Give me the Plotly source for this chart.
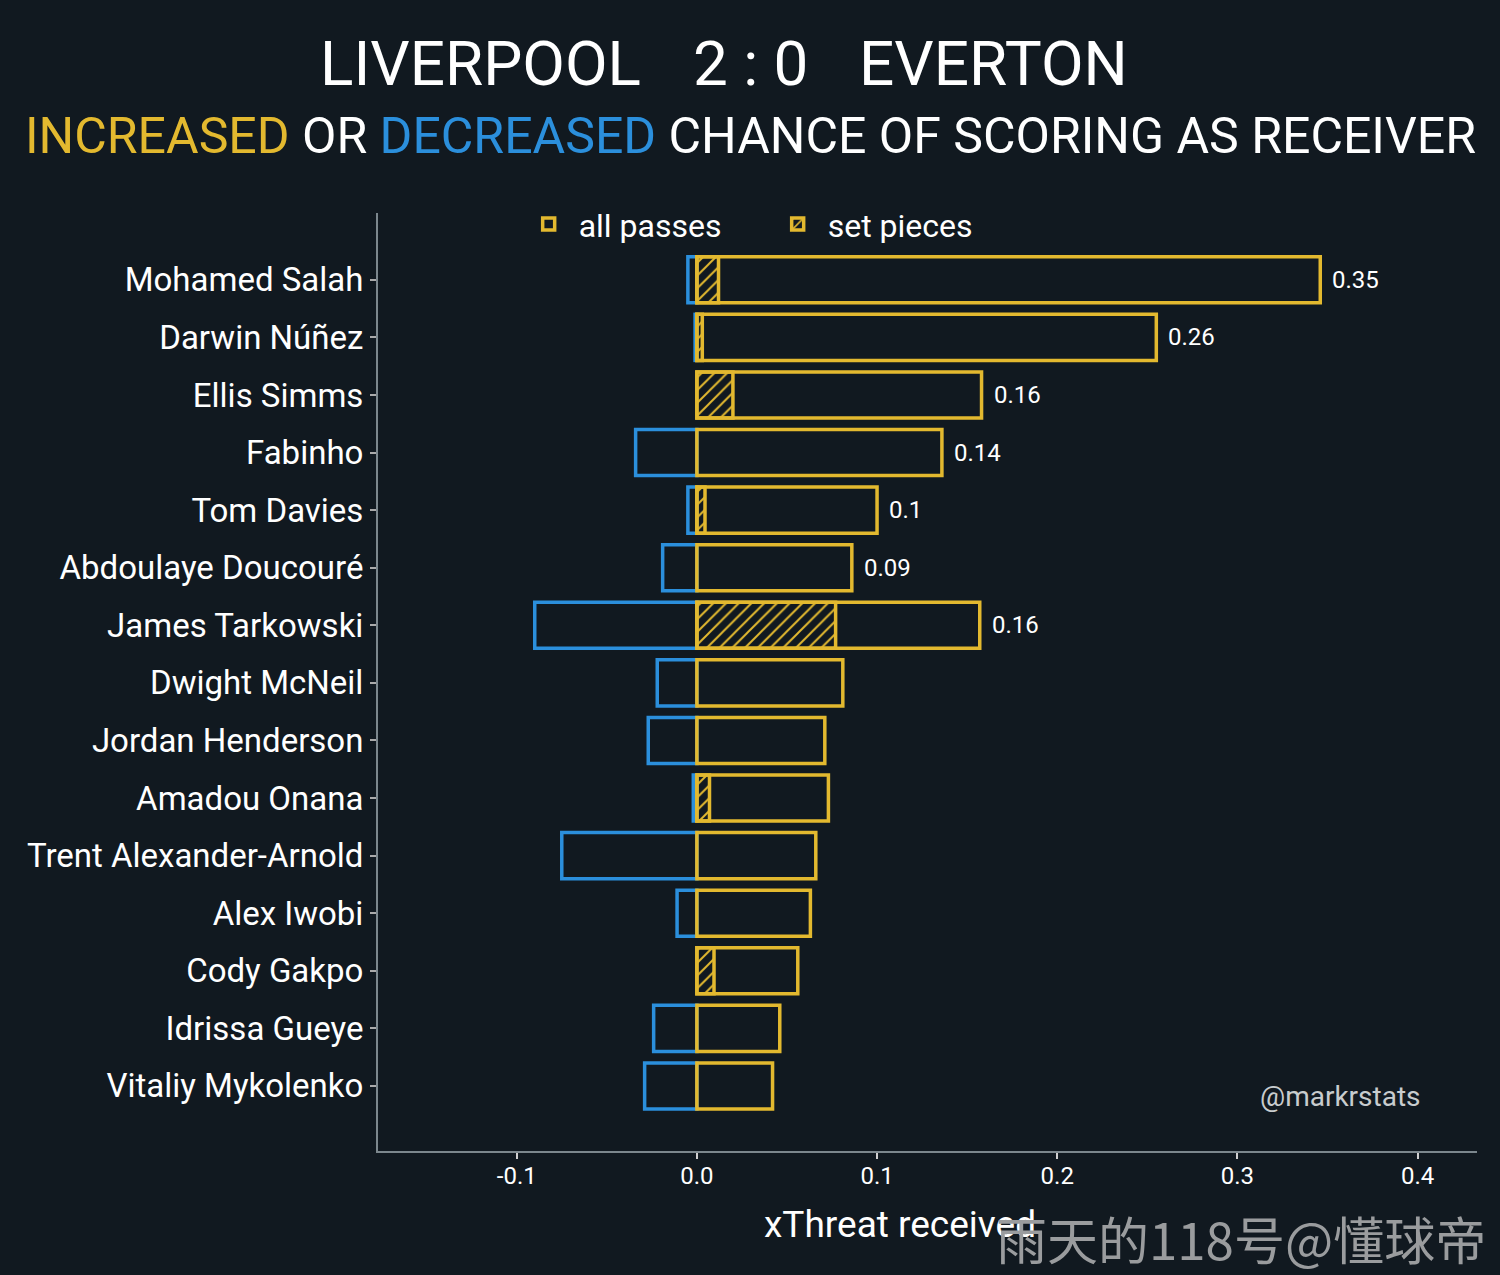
import plotly.graph_objects as go

# data
players = [
    "Mohamed Salah", "Darwin Núñez", "Ellis Simms", "Fabinho", "Tom Davies",
    "Abdoulaye Doucouré", "James Tarkowski", "Dwight McNeil", "Jordan Henderson",
    "Amadou Onana", "Trent Alexander-Arnold", "Alex Iwobi", "Cody Gakpo",
    "Idrissa Gueye", "Vitaliy Mykolenko",
]
increased = [0.346, 0.255, 0.158, 0.136, 0.100, 0.086, 0.157, 0.081, 0.071,
             0.073, 0.066, 0.063, 0.056, 0.046, 0.042]
decreased = [-0.005, -0.001, None, -0.034, -0.005, -0.019, -0.090, -0.022, -0.027,
             -0.002, -0.075, -0.011, None, -0.024, -0.029]
set_pieces = [0.012, 0.003, 0.020, None, 0.0045, None, 0.077, None, None,
              0.007, None, None, 0.0095, None, None]
value_labels = ["0.35", "0.26", "0.16", "0.14", "0.1", "0.09", "0.16",
                "", "", "", "", "", "", "", ""]

BG = "#111920"
YELLOW = "#e3b92f"
BLUE = "#2b8fdc"
AXIS = "#7c878d"
FONT = "Roboto"

W, H = 1500, 1275
L, R, T, B = 378, 23, 213, 124
pw, ph = W - L - R, H - T - B


def px(x, y):
    # pixel position on the page -> paper coordinates
    return (x - L) / pw, 1 - (y - T) / ph


fig = go.Figure()

fig.add_trace(go.Bar(
    y=players, x=decreased, orientation="h", width=0.8,
    marker=dict(color="rgba(0,0,0,0)", line=dict(color=BLUE, width=3.5)),
    showlegend=False, name="decreased",
))
fig.add_trace(go.Bar(
    y=players, x=increased, orientation="h", width=0.8,
    marker=dict(color="rgba(0,0,0,0)", line=dict(color=YELLOW, width=3.5)),
    name="all passes",
))
fig.add_trace(go.Bar(
    y=players, x=set_pieces, orientation="h", width=0.8,
    marker=dict(
        color="rgba(0,0,0,0)", line=dict(color=YELLOW, width=3.5),
        pattern=dict(shape="/", fgcolor=YELLOW, bgcolor="rgba(0,0,0,0)",
                     size=9, solidity=0.22, fillmode="replace"),
    ),
    name="set pieces",
))

# value labels at the end of the bars
for p, v, t in zip(players, increased, value_labels):
    if t:
        fig.add_annotation(x=v, y=p, text=t, showarrow=False, xanchor="left",
                           xshift=10, font=dict(family=FONT, size=24, color="white"))


def text_at(x, y, text, anchor, size, color="white", family=FONT):
    xp, yp = px(x, y)
    fig.add_annotation(x=xp, y=yp, xref="paper", yref="paper", text=text,
                       showarrow=False, xanchor=anchor, yanchor="middle",
                       font=dict(family=family, size=size, color=color))


# titles
text_at(643, 63, "LIVERPOOL", "right", 62)
text_at(750, 63, "2 : 0", "center", 62)
text_at(857, 63, "EVERTON", "left", 62)
text_at(750, 136,
        f"<span style='color:{YELLOW}'>INCREASED</span> OR "
        f"<span style='color:{BLUE}'>DECREASED</span> CHANCE OF SCORING AS RECEIVER",
        "center", 50)

# axis title, credit and watermark
text_at(900, 1224, "xThreat received", "center", 37)
text_at(1423, 1096, "@markrstats", "right", 28, color="#c8ccce")
text_at(1488, 1238, "雨天的118号@懂球帝", "right", 51, color="#9a9c9e",
        family="Noto Sans CJK SC")

fig.update_layout(
    width=W, height=H,
    paper_bgcolor=BG, plot_bgcolor=BG,
    margin=dict(l=L, r=R, t=T, b=B),
    barmode="overlay",
    font=dict(family=FONT, color="white"),
    legend=dict(orientation="h", x=0.128, y=0.988, xanchor="left", yanchor="middle",
                font=dict(family=FONT, size=32, color="white"),
                bgcolor="rgba(0,0,0,0)", itemwidth=50,
                entrywidth=184, entrywidthmode="pixels"),
)
fig.update_xaxes(
    range=[-0.177, 0.433], tickvals=[-0.1, 0, 0.1, 0.2, 0.3, 0.4],
    ticktext=["-0.1", "0.0", "0.1", "0.2", "0.3", "0.4"],
    showgrid=False, zeroline=False, showline=True, linecolor=AXIS, linewidth=2,
    ticks="outside", ticklen=6, tickwidth=2, tickcolor="#d0d0d0",
    tickfont=dict(family=FONT, size=24, color="white"), ticklabelstandoff=-4,
)
fig.update_yaxes(
    range=[15.13, -1.16], showgrid=False, zeroline=False, showline=True,
    linecolor=AXIS, linewidth=2, ticks="outside", ticklen=6, tickwidth=1.5,
    tickcolor="#aaaaaa", tickfont=dict(family=FONT, size=33, color="white"),
)

fig.write_html("out.html", config={"displayModeBar": False},
               post_script="document.body.style.margin='0';")
